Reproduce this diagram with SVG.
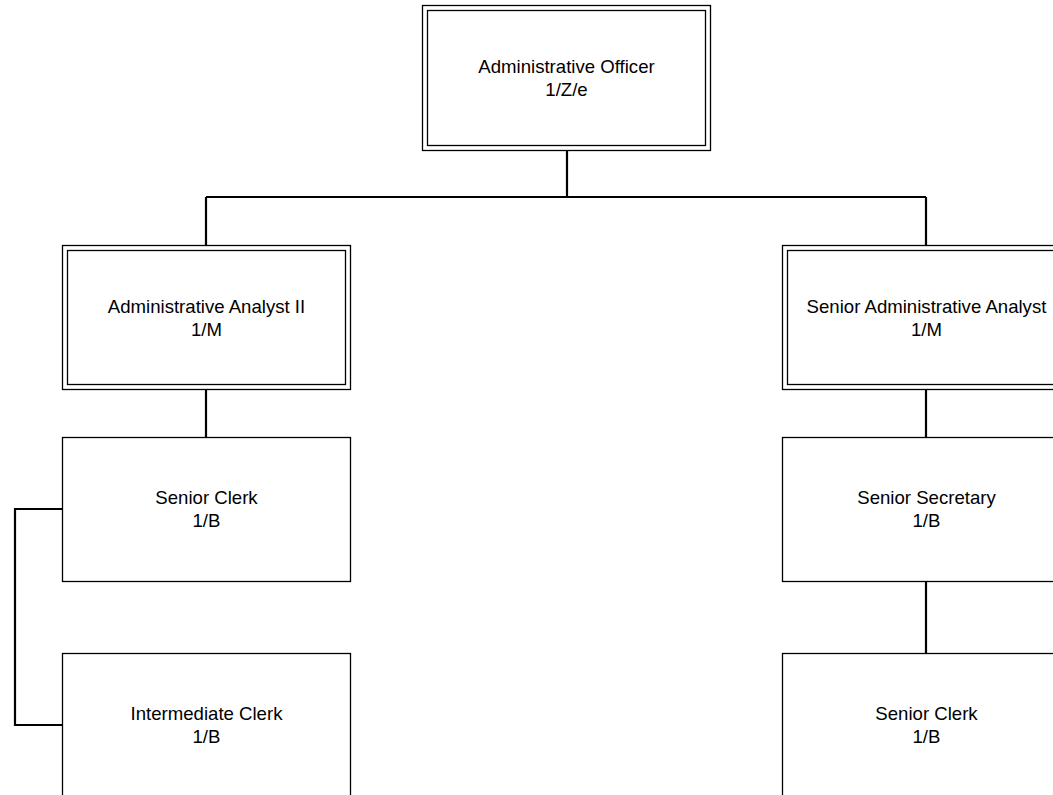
<svg xmlns="http://www.w3.org/2000/svg" width="1053" height="795" viewBox="0 0 1053 795">
<style>
.box{fill:#fff;stroke:#000;stroke-width:1.3}
.in{fill:none;stroke:#000;stroke-width:1.3}
.t{font-family:"Liberation Sans",Arial,sans-serif;font-size:18.6px;fill:#000;text-anchor:middle}
.c{fill:none;stroke:#000;stroke-width:2.2}
</style>
<rect width="1053" height="795" fill="#fff"/>
<g id="connectors">
<path class="c" d="M567,151V197M206,197H926M206,197V245M926,197V245"/>
<path class="c" d="M206,389V437M926,389V437M926,581V653"/>
<path class="c" d="M62,509H15V725H62"/>
</g>
<g id="administrative-officer">
<rect class="box" x="422.5" y="5.5" width="288" height="145"/>
<rect class="in" x="427.5" y="10.5" width="278" height="135"/>
<text class="t" x="566.5" y="72.5">Administrative Officer</text>
<text class="t" x="566.5" y="95.5">1/Z/e</text>
</g>
<g id="administrative-analyst-ii">
<rect class="box" x="62.5" y="245.5" width="288" height="144"/>
<rect class="in" x="67.5" y="250.5" width="278" height="134"/>
<text class="t" x="206.5" y="312.5">Administrative Analyst II</text>
<text class="t" x="206.5" y="335.5">1/M</text>
</g>
<g id="senior-administrative-analyst">
<rect class="box" x="782.5" y="245.5" width="288" height="144"/>
<rect class="in" x="787.5" y="250.5" width="278" height="134"/>
<text class="t" x="926.5" y="312.5">Senior Administrative Analyst</text>
<text class="t" x="926.5" y="335.5">1/M</text>
</g>
<g id="senior-clerk-left">
<rect class="box" x="62.5" y="437.5" width="288" height="144"/>
<text class="t" x="206.5" y="504">Senior Clerk</text>
<text class="t" x="206.5" y="527">1/B</text>
</g>
<g id="intermediate-clerk">
<rect class="box" x="62.5" y="653.5" width="288" height="144"/>
<text class="t" x="206.5" y="720">Intermediate Clerk</text>
<text class="t" x="206.5" y="743">1/B</text>
</g>
<g id="senior-secretary">
<rect class="box" x="782.5" y="437.5" width="288" height="144"/>
<text class="t" x="926.5" y="504">Senior Secretary</text>
<text class="t" x="926.5" y="527">1/B</text>
</g>
<g id="senior-clerk-right">
<rect class="box" x="782.5" y="653.5" width="288" height="144"/>
<text class="t" x="926.5" y="720">Senior Clerk</text>
<text class="t" x="926.5" y="743">1/B</text>
</g>
</svg>
